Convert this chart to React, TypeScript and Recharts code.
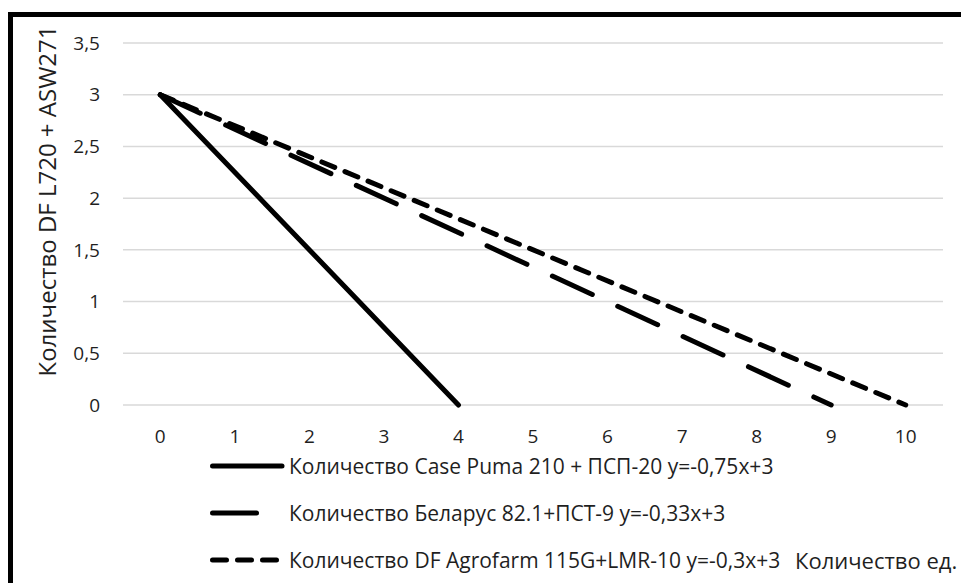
import React from "react";
import { LineChart, Line, XAxis, YAxis, CartesianGrid, Legend } from "recharts";

const xTicks = [0, 1, 2, 3, 4, 5, 6, 7, 8, 9, 10];
const yTicks = [0, 0.5, 1, 1.5, 2, 2.5, 3, 3.5];

const seriesNames = [
  "Количество Case Puma 210 + ПСП-20 y=-0,75x+3",
  "Количество Беларус 82.1+ПСТ-9 y=-0,33x+3",
  "Количество DF Agrofarm 115G+LMR-10 y=-0,3x+3",
];
const caseX = [0, 4];
const caseY = [3, 0];
const belarusX = [0, 9];
const belarusY = [3, 0];
const dfX = [0, 10];
const dfY = [3, 0];

const yTitle = "Количество DF L720 + ASW271";
const xTitle = "Количество ед.";

const toPoints = (xs: number[], ys: number[]) => xs.map((x, i) => ({ x, y: ys[i] }));

const series = [
  { name: seriesNames[0], data: toPoints(caseX, caseY), dash: undefined as string | undefined },
  { name: seriesNames[1], data: toPoints(belarusX, belarusY), dash: "44 28" },
  { name: seriesNames[2], data: toPoints(dfX, dfY), dash: "14 11" },
];

const FONT = "'Open Sans', sans-serif";
const TEXT = "#1f1f1f";

const renderLegend = () => (
  <div style={{ fontFamily: FONT }}>
    {series.map((s) => (
      <div key={s.name} style={{ display: "flex", alignItems: "center", height: 47 }}>
        <svg width={79} height={10} style={{ flex: "none" }}>
          <line
            x1={2.5}
            y1={5}
            x2={72}
            y2={5}
            stroke="#000"
            strokeWidth={5}
            strokeLinecap="round"
            strokeDasharray={s.dash}
          />
        </svg>
        <span style={{ fontSize: 21, color: TEXT, whiteSpace: "nowrap" }}>{s.name}</span>
      </div>
    ))}
  </div>
);

export default function App() {
  return (
    <div
      style={{
        position: "fixed",
        left: 8,
        top: 12,
        width: 953,
        height: 571,
        overflow: "hidden",
        borderTop: "5px solid #000",
        borderLeft: "5px solid #000",
        background: "#fff",
      }}
    >
      <LineChart
        width={948}
        height={566}
        margin={{ top: 26, right: 18, left: 0, bottom: 0 }}
        style={{ fontFamily: FONT }}
      >
        <CartesianGrid vertical={false} stroke="#d9d9d9" strokeWidth={1.5} />
        <XAxis
          type="number"
          dataKey="x"
          domain={[-0.5, 10.5]}
          ticks={xTicks}
          interval={0}
          height={178}
          axisLine={false}
          tickLine={false}
          tickSize={0}
          tickMargin={25}
          tick={{ fill: TEXT, fontSize: 19 }}
          label={{
            content: () => (
              <text x={782} y={552} fill={TEXT} fontSize={22} textAnchor="start" fontFamily={FONT}>
                {xTitle}
              </text>
            ),
          }}
        />
        <YAxis
          type="number"
          domain={[0, 3.5]}
          ticks={yTicks}
          interval={0}
          width={110}
          axisLine={false}
          tickLine={false}
          tickSize={0}
          tickMargin={23}
          tick={{ fill: TEXT, fontSize: 19 }}
          tickFormatter={(v: number) => String(v).replace(".", ",")}
          label={{
            content: () => (
              <text
                x={33}
                y={184}
                fill={TEXT}
                fontSize={24}
                textAnchor="middle"
                dominantBaseline="central"
                fontFamily={FONT}
                transform="rotate(-90 33 184)"
              >
                {yTitle}
              </text>
            ),
          }}
        />
        <Legend
          layout="horizontal"
          verticalAlign="middle"
          align="center"
          content={renderLegend}
          wrapperStyle={{ position: "absolute", left: 197, top: 425, width: 640, height: 141 }}
        />
        {series.map((s) => (
          <Line
            key={s.name}
            name={s.name}
            data={s.data}
            dataKey="y"
            type="linear"
            stroke="#000"
            strokeWidth={5}
            strokeLinecap="round"
            strokeLinejoin="round"
            strokeDasharray={s.dash}
            dot={false}
            activeDot={false}
            isAnimationActive={false}
          />
        ))}
      </LineChart>
    </div>
  );
}
